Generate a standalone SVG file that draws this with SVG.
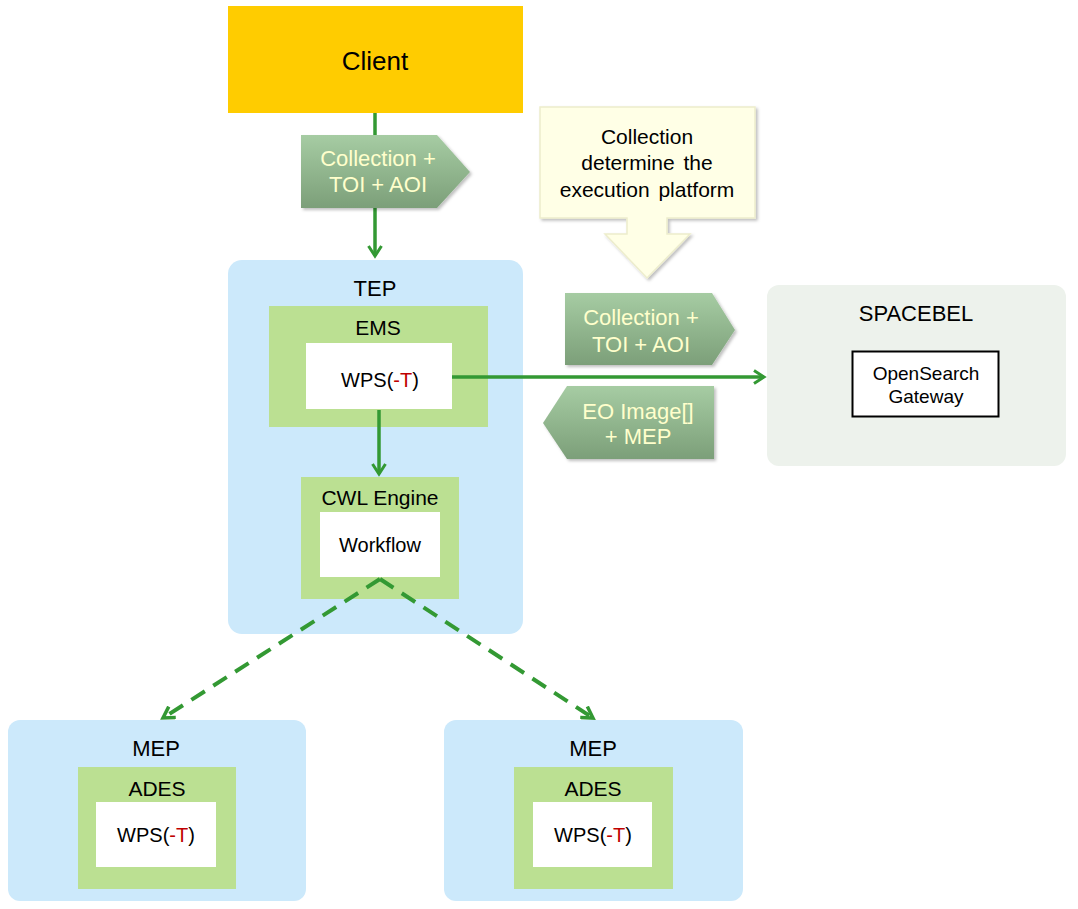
<svg xmlns="http://www.w3.org/2000/svg" width="1078" height="909" viewBox="0 0 1078 909">
<style>
text{font-family:"Liberation Sans",Arial,sans-serif;fill:#000;text-anchor:middle}
.plat{fill:#CCE9FB}
.comp{fill:#BBE092}
.inner{fill:#fff}
.call{fill:url(#cg);filter:url(#sh)}
.ct{fill:#FFFFCC;font-size:22px}
.conn{stroke:#339933;stroke-width:3.5;fill:none}
.dash{stroke-dasharray:16 10;stroke-width:4}
.red{fill:#C00000}
</style>
<defs>
<linearGradient id="cg" x1="0" y1="0" x2="0" y2="1">
<stop offset="0" stop-color="#A6CCA3"/>
<stop offset="1" stop-color="#7C9F79"/>
</linearGradient>
<filter id="sh" x="-10%" y="-10%" width="130%" height="130%">
<feDropShadow dx="2" dy="2" stdDeviation="1.5" flood-color="#000" flood-opacity="0.25"/>
</filter>
<marker id="arr" viewBox="0 0 16 16" refX="13" refY="8" markerWidth="16" markerHeight="16" markerUnits="userSpaceOnUse" orient="auto">
<path d="M3,1.5 L13,8 L3,14.5" fill="none" stroke="#339933" stroke-width="3"/>
</marker>
<marker id="arrL" viewBox="0 0 16 16" refX="13" refY="8" markerWidth="16" markerHeight="16" markerUnits="userSpaceOnUse" orient="auto">
<path d="M2,1.5 L13,8 L2,14.5" fill="none" stroke="#339933" stroke-width="3.5"/>
</marker>
</defs>

<g id="client">
<rect x="228" y="6" width="295" height="107" fill="#FFCC00"/>
<text x="375" y="70" font-size="26">Client</text>
</g>

<g id="tep">
<rect class="plat" x="228" y="260" width="295" height="374" rx="14"/>
<text x="375" y="296" font-size="22">TEP</text>
</g>
<g id="ems">
<rect class="comp" x="269" y="306" width="219" height="121"/>
<text x="378" y="335" font-size="21">EMS</text>
</g>
<g id="ems-wps">
<rect class="inner" x="306" y="343" width="146" height="66"/>
<text x="380" y="387" font-size="20">WPS(<tspan class="red">-T</tspan>)</text>
</g>
<g id="cwl">
<rect class="comp" x="301" y="477" width="158" height="122"/>
<text x="380" y="505" font-size="21">CWL Engine</text>
</g>
<g id="workflow">
<rect class="inner" x="320" y="512" width="120" height="65"/>
<text x="380" y="552" font-size="20">Workflow</text>
</g>

<g id="spacebel">
<rect x="767" y="285" width="299" height="181" rx="12" fill="#EDF2EC"/>
<text x="916" y="321" font-size="22">SPACEBEL</text>
</g>
<g id="opensearch">
<rect x="852.5" y="351.5" width="146" height="65" fill="#fff" stroke="#000" stroke-width="2"/>
<text x="926" y="380" font-size="19">OpenSearch</text>
<text x="926" y="403" font-size="19">Gateway</text>
</g>

<g id="mep1">
<rect class="plat" x="8" y="720" width="298" height="181" rx="12"/>
<text x="156" y="756" font-size="22">MEP</text>
</g>
<g id="ades1">
<rect class="comp" x="78" y="767" width="158" height="122"/>
<text x="157" y="796" font-size="21">ADES</text>
</g>
<g id="ades1-wps">
<rect class="inner" x="96" y="802" width="120" height="65"/>
<text x="156" y="842" font-size="20">WPS(<tspan class="red">-T</tspan>)</text>
</g>

<g id="mep2">
<rect class="plat" x="444" y="720" width="299" height="181" rx="12"/>
<text x="593" y="756" font-size="22">MEP</text>
</g>
<g id="ades2">
<rect class="comp" x="514" y="767" width="159" height="122"/>
<text x="593" y="796" font-size="21">ADES</text>
</g>
<g id="ades2-wps">
<rect class="inner" x="533" y="802" width="119" height="65"/>
<text x="593" y="842" font-size="20">WPS(<tspan class="red">-T</tspan>)</text>
</g>

<g id="note">
<path d="M540,107 H755 V218 H667 V234 H690 L647,278 L605,234 H627 V218 H540 Z" fill="#FFFFE6" stroke="#EDEDCC" stroke-width="1.5" filter="url(#sh)"/>
<text x="647" y="144" font-size="21">Collection</text>
<text x="647" y="170" font-size="21" word-spacing="3">determine the</text>
<text x="647" y="197" font-size="21" word-spacing="3">execution platform</text>
</g>

<g id="connectors">
<line class="conn" x1="375" y1="113" x2="375" y2="256" marker-end="url(#arr)"/>
<line class="conn" x1="452" y1="377" x2="764" y2="377" marker-end="url(#arr)"/>
<line class="conn" x1="379" y1="410" x2="379" y2="474" marker-end="url(#arr)"/>
<line class="conn dash" x1="380" y1="579" x2="163" y2="718" marker-end="url(#arrL)"/>
<line class="conn dash" x1="380" y1="579" x2="593" y2="718" marker-end="url(#arrL)"/>
</g>

<g id="msg1">
<path class="call" d="M301,135 H437 L470,172 L437,208 H301 Z"/>
<text class="ct" x="378" y="166">Collection +</text>
<text class="ct" x="378" y="192">TOI + AOI</text>
</g>
<g id="msg2">
<path class="call" d="M565,293 H712 L735,330 L712,365 H565 Z"/>
<text class="ct" x="641" y="325">Collection +</text>
<text class="ct" x="641" y="352">TOI + AOI</text>
</g>
<g id="msg3">
<path class="call" d="M567,386 H714 V459 H567 L543,423 Z"/>
<text class="ct" x="638" y="419">EO Image[]</text>
<text class="ct" x="638" y="444">+ MEP</text>
</g>
</svg>
